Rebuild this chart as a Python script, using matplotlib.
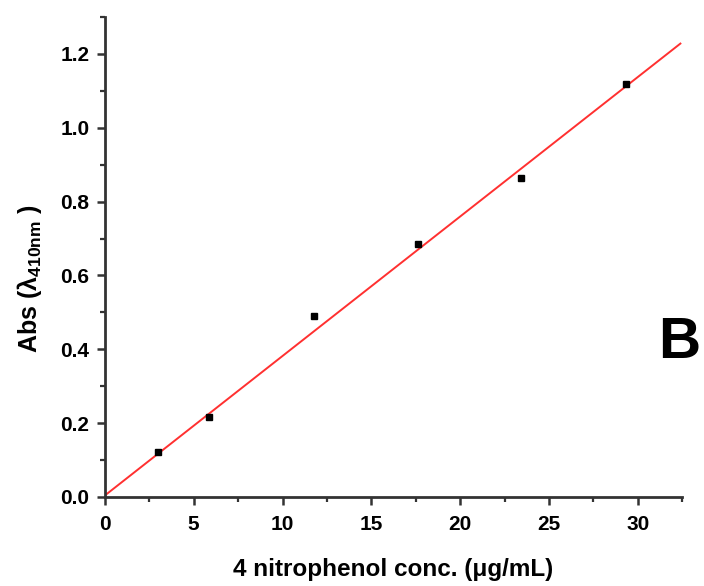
import numpy as np
import matplotlib.pyplot as plt

# --- DATA ---
conc = [3.0, 5.85, 11.75, 17.6, 23.4, 29.35]          # 4-nitrophenol, ug/mL
absorb = [0.123, 0.217, 0.489, 0.684, 0.865, 1.119]    # Abs at 410 nm
fit_x = [0.0, 32.4]
fit_y = [0.004, 1.228]

xticks = [0, 5, 10, 15, 20, 25, 30]
yticks = [0.0, 0.2, 0.4, 0.6, 0.8, 1.0, 1.2]

# --- STYLE ---
plt.rcParams['font.family'] = ['Liberation Sans', 'DejaVu Sans']
plt.rcParams['font.weight'] = 'bold'
plt.rcParams['mathtext.fontset'] = 'custom'
plt.rcParams['mathtext.bf'] = 'Liberation Sans:bold'
plt.rcParams['mathtext.rm'] = 'Liberation Sans:bold'
plt.rcParams['mathtext.default'] = 'bf'

fig = plt.figure(figsize=(7.04, 5.86), dpi=100)
ax = fig.add_axes([0.149, 0.152, 0.82, 0.819])

ax.plot(fit_x, fit_y, color='#ff3030', linewidth=1.4, zorder=2)
ax.plot(conc, absorb, linestyle='none', marker='s', markersize=5,
        color='black', zorder=3)

ax.set_xlim(0, 32.5)
ax.set_ylim(0, 1.3)
ax.set_xticks(xticks)
ax.set_xticklabels([str(t) for t in xticks])
ax.set_yticks(yticks)
ax.set_yticklabels(['%.1f' % t for t in yticks])
ax.set_xticks(np.arange(2.5, 32.6, 5), minor=True)
ax.set_yticks(np.arange(0.1, 1.31, 0.2), minor=True)

for side in ['top', 'right']:
    ax.spines[side].set_visible(False)
for side in ['left', 'bottom']:
    ax.spines[side].set_linewidth(2.0)
    ax.spines[side].set_color('#333333')

ax.tick_params(which='major', direction='out', length=6, width=1.8,
               color='#333333', labelsize=15, pad=5)
ax.tick_params(which='minor', direction='out', length=3.5, width=1.6,
               color='#333333')
ax.tick_params(axis='x', which='major', pad=7)

ax.set_xlabel('4 nitrophenol conc. (\u03bcg/mL)', fontsize=17.5,
              fontweight='bold')
ax.xaxis.set_label_coords(0.5, -0.128)
ax.set_ylabel('Abs (\u03bb$_{410nm}$ )', fontsize=18, fontweight='bold')
ax.yaxis.set_label_coords(-0.105, 0.455)

ax.text(1.032, 0.32, 'B', transform=ax.transAxes, fontsize=42,
        fontweight='bold', ha='right', va='center', clip_on=False)

fig.savefig('out.png', dpi=100)
